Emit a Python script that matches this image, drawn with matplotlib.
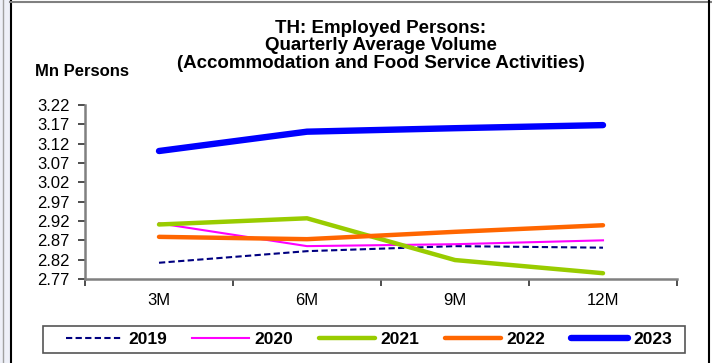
import matplotlib
matplotlib.use("Agg")
import matplotlib.pyplot as plt
from matplotlib.lines import Line2D
from matplotlib.patches import Rectangle
import numpy as np

plt.rcParams['font.family'] = ['Liberation Sans', 'DejaVu Sans']

categories = ["3M", "6M", "9M", "12M"]
years = ["2019", "2020", "2021", "2022", "2023"]
v2019 = [2.812, 2.842, 2.855, 2.851]
v2020 = [2.914, 2.855, 2.860, 2.870]
v2021 = [2.911, 2.927, 2.819, 2.785]
v2022 = [2.879, 2.873, 2.892, 2.909]
v2023 = [3.101, 3.151, 3.160, 3.168]
yticks = [2.77, 2.82, 2.87, 2.92, 2.97, 3.02, 3.07, 3.12, 3.17, 3.22]

W, H = 712, 363
fig = plt.figure(figsize=(W / 100, H / 100), dpi=100)

# outer frame decorations
fig.patches.append(Rectangle((0, 0), 10 / W, 1, transform=fig.transFigure,
                             facecolor="#eef0f8", edgecolor="none", zorder=0))
fig.add_artist(Line2D([3 / W, 3 / W], [0, 1], color="#a0a0a0", lw=1, transform=fig.transFigure))
fig.add_artist(Line2D([10.5 / W, 10.5 / W], [0, 1], color="black", lw=1.5, transform=fig.transFigure))
fig.add_artist(Line2D([10 / W, 1], [1 - 1.5 / H, 1 - 1.5 / H], color="#808080", lw=1.5, transform=fig.transFigure))
fig.add_artist(Line2D([709 / W, 709 / W], [0, 1], color="black", lw=1.5, transform=fig.transFigure))

ax = fig.add_axes([85 / W, 1 - 279 / H, (677 - 85) / W, (279 - 105) / H])
x = np.arange(len(categories))

styles = [
    (v2019, dict(color="#000080", lw=1.5, ls=(0, (3, 1.6)))),
    (v2020, dict(color="#FF00FF", lw=1.5)),
    (v2021, dict(color="#99CC00", lw=3.2, solid_capstyle="round")),
    (v2022, dict(color="#FF6600", lw=3.2, solid_capstyle="round")),
    (v2023, dict(color="#0000FF", lw=4.6, solid_capstyle="round")),
]
handles = []
for (vals, st), yr in zip(styles, years):
    h, = ax.plot(x, vals, label=yr, **st)
    handles.append(h)

ax.set_xlim(-0.5, len(categories) - 0.5)
ax.set_ylim(2.77, 3.22)
ax.set_yticks(yticks)
ax.set_yticklabels([f"{t:.2f}" for t in yticks])
ax.set_xticks(x)
ax.set_xticklabels(categories)
ax.set_xticks(np.arange(-0.5, len(categories)), minor=True)
ax.tick_params(axis="x", which="major", length=0, pad=10, labelsize=12)
ax.tick_params(axis="x", which="minor", length=5, width=1.2, color="#303030", direction="out")
ax.tick_params(axis="y", length=5, width=1.2, color="#303030", pad=6, labelsize=12, direction="out")

for s in ["top", "right"]:
    ax.spines[s].set_visible(False)
for s in ["left", "bottom"]:
    ax.spines[s].set_color("#808080")
    ax.spines[s].set_linewidth(1.8)

fig.text(381 / W, 1 - 46 / H, "TH: Employed Persons:\nQuarterly Average Volume\n(Accommodation and Food Service Activities)",
         ha="center", va="center", fontsize=13.5, fontweight="bold", linespacing=1.02)
fig.text(35 / W, 1 - 71 / H, "Mn Persons", ha="left", va="center", fontsize=12, fontweight="bold")

# legend frame
fig.patches.append(Rectangle((42.5 / W, 1 - 352.7 / H), (685 - 42.5) / W, (352.7 - 325.7) / H,
                             transform=fig.transFigure, facecolor="white",
                             edgecolor="#555555", linewidth=1.2, zorder=1))
leg = fig.legend(handles=handles, loc="center", ncol=5,
                 bbox_to_anchor=(369 / W, 1 - 339.5 / H),
                 bbox_transform=fig.transFigure,
                 frameon=False, borderaxespad=0,
                 handlelength=3.25, handletextpad=0.32, columnspacing=1.47,
                 prop=dict(weight="bold", size=12.5))
leg.set_zorder(2)

fig.savefig("out.png", dpi=100)
